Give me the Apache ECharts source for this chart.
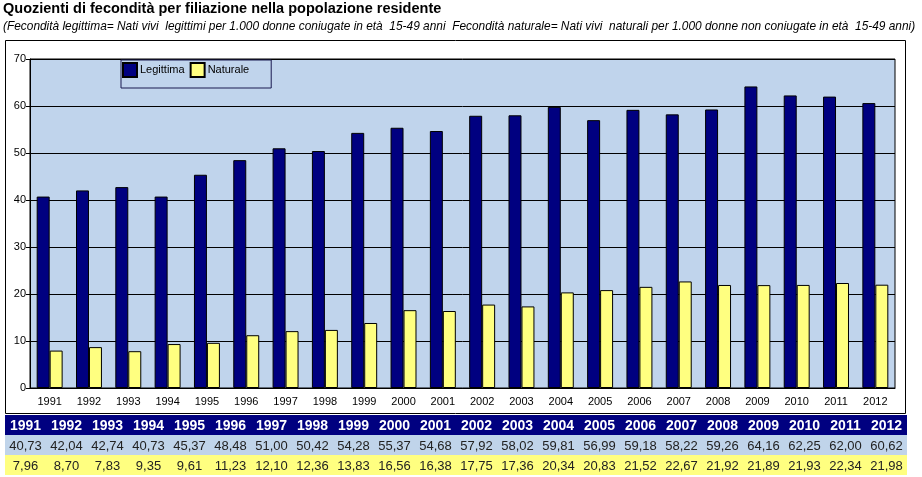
<!DOCTYPE html>
<html>
<head>
<meta charset="utf-8">
<script src="https://cdn.jsdelivr.net/npm/echarts@6/dist/echarts.min.js"></script>
<style>
  html, body { margin: 0; padding: 0; background: #fff; }
  #wrap { position: relative; width: 922px; height: 477px; }
  #chart { position: absolute; left: 0; top: 0; width: 922px; height: 477px; }
  #tbl { position: absolute; left: 5px; top: 415px; width: 902px; border-collapse: collapse; table-layout: fixed;
         font-family: "Liberation Sans", Arial, sans-serif; }
  #tbl td { height: 20px; padding: 0; text-align: center; white-space: nowrap; }
  #tbl tr.h td { background: #000080; color: #fff; font-weight: bold; font-size: 14px; }
  #tbl tr.l td { background: #c0d4ea; color: #222; font-size: 13px; }
  #tbl tr.n td { background: #ffff80; color: #222; font-size: 13px; }
</style>
</head>
<body>
<div id="wrap">
  <div id="chart"></div>
  <table id="tbl"></table>
</div>
<script>
const years = ['1991','1992','1993','1994','1995','1996','1997','1998','1999','2000','2001','2002','2003','2004','2005','2006','2007','2008','2009','2010','2011','2012'];
const legittima = [40.73,42.04,42.74,40.73,45.37,48.48,51.00,50.42,54.28,55.37,54.68,57.92,58.02,59.81,56.99,59.18,58.22,59.26,64.16,62.25,62.00,60.62];
const naturale = [7.96,8.70,7.83,9.35,9.61,11.23,12.10,12.36,13.83,16.56,16.38,17.75,17.36,20.34,20.83,21.52,22.67,21.92,21.89,21.93,22.34,21.98];
const yTicks = [0,10,20,30,40,50,60,70];

const fmt = v => v.toFixed(2).replace('.', ',');
const tbl = document.getElementById('tbl');
function addRow(cls, arr) {
  const tr = document.createElement('tr');
  tr.className = cls;
  arr.forEach(t => { const td = document.createElement('td'); td.textContent = t; tr.appendChild(td); });
  tbl.appendChild(tr);
}
addRow('h', years);
addRow('l', legittima.map(fmt));
addRow('n', naturale.map(fmt));

const font = '"Liberation Sans", Arial, sans-serif';
const chart = echarts.init(document.getElementById('chart'), null, { renderer: 'canvas' });
chart.setOption({
  animation: false,
  textStyle: { fontFamily: font },
  title: {
    text: 'Quozienti di fecondità per filiazione nella popolazione residente',
    subtext: '(Fecondità legittima= Nati vivi  legittimi per 1.000 donne coniugate in età  15-49 anni  Fecondità naturale= Nati vivi  naturali per 1.000 donne non coniugate in età  15-49 anni)',
    left: 3, top: 1, padding: 0, itemGap: 5,
    textStyle: { fontFamily: font, fontSize: 14.5, fontWeight: 'bold', color: '#000' },
    subtextStyle: { fontFamily: font, fontSize: 11.9, fontStyle: 'italic', color: '#000' }
  },
  graphic: [{
    type: 'rect', left: 5, top: 40, z: -1,
    shape: { width: 900, height: 373 },
    style: { fill: '#fff', stroke: '#000', lineWidth: 1 }
  }],
  legend: {
    left: 121, top: 60,
    padding: [2, 22, 10, 1],
    itemGap: 5,
    itemWidth: 14, itemHeight: 14,
    icon: 'rect',
    borderColor: '#1a1a50', borderWidth: 1,
    textStyle: { fontFamily: font, fontSize: 11, color: '#000', padding: [0, 0, 0, -2] },
    data: ['Legittima', 'Naturale']
  },
  grid: {
    left: 30, right: 27, top: 59, bottom: 89,
    show: true, backgroundColor: '#c0d4ec', borderColor: '#000', borderWidth: 1
  },
  xAxis: {
    type: 'category', data: years,
    axisLine: { lineStyle: { color: '#000' } },
    axisTick: { show: false },
    axisLabel: { color: '#000', fontSize: 11, margin: 8 }
  },
  yAxis: {
    type: 'value', min: yTicks[0], max: yTicks[yTicks.length - 1], interval: 10,
    axisLine: { show: true, lineStyle: { color: '#000' } },
    axisTick: { show: true, length: 4, lineStyle: { color: '#000' } },
    axisLabel: { color: '#000', fontSize: 11, margin: 4 },
    splitLine: { lineStyle: { color: '#000', width: 1 } }
  },
  series: [
    { name: 'Legittima', type: 'bar', data: legittima, barGap: '0%', barCategoryGap: '34%',
      itemStyle: { color: '#000080', borderColor: '#000', borderWidth: 1 } },
    { name: 'Naturale', type: 'bar', data: naturale,
      itemStyle: { color: '#ffff80', borderColor: '#000', borderWidth: 1 } }
  ]
});
</script>
</body>
</html>
